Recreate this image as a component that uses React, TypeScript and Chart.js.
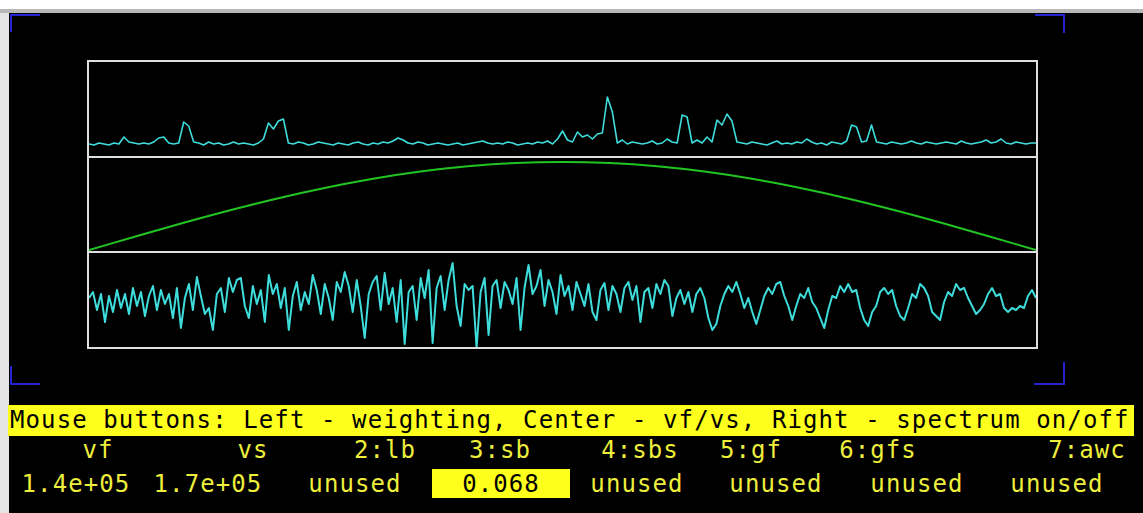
import React, { useEffect, useRef } from "react";
import { Chart, registerables } from "chart.js";

Chart.register(...registerables);

// ---- data ----
// top panel: spectrum (height above panel floor, 0..96)
const spectrum = [
  13, 12, 14, 13, 12, 14, 13, 20, 15, 14,
  13, 14, 13, 15, 19, 20, 14, 13, 14, 35,
  31, 15, 14, 12, 15, 13, 14, 12, 13, 15,
  13, 14, 13, 12, 14, 18, 34, 28, 36, 38,
  14, 13, 15, 14, 12, 13, 15, 14, 13, 12,
  14, 13, 12, 14, 15, 13, 12, 14, 13, 15,
  14, 16, 19, 17, 14, 13, 15, 14, 12, 13,
  14, 13, 12, 13, 14, 12, 13, 14, 15, 16,
  14, 13, 14, 13, 15, 14, 12, 13, 14, 13,
  15, 14, 16, 13, 18, 26, 17, 15, 25, 20,
  22, 18, 23, 24, 60, 45, 14, 17, 13, 15,
  14, 13, 14, 16, 13, 14, 18, 15, 14, 42,
  40, 14, 17, 14, 20, 15, 37, 32, 43, 36,
  15, 14, 13, 15, 14, 13, 12, 14, 16, 13,
  14, 13, 15, 14, 18, 15, 13, 14, 12, 15,
  14, 13, 16, 32, 30, 15, 16, 32, 15, 14,
  13, 15, 14, 13, 14, 16, 14, 13, 15, 14,
  13, 14, 15, 14, 13, 16, 14, 13, 14, 15,
  17, 14, 15, 18, 14, 13, 15, 14, 13, 14,
  14,
];

// middle panel: weighting window (0..1)
const weighting = [
  0, 0.156, 0.309, 0.454, 0.588, 0.707, 0.809, 0.891, 0.951, 0.988,
  1, 0.988, 0.951, 0.891, 0.809, 0.707, 0.588, 0.454, 0.309, 0.156, 0,
];

// bottom panel: time signal (-48..48)
const signal = [
  2, 8, -10, 6, -22, 4, -12, 10, -8, 6,
  -14, 12, -6, 8, -16, 4, 14, -10, 10, -4,
  6, -18, 12, -28, 2, 16, -10, 23, 4, -14,
  -8, -30, 6, 12, -12, 22, 8, 20, 22, -6,
  -18, 14, -4, 10, -22, 25, 6, 16, -8, 12,
  -30, 4, 18, -10, 8, -4, 25, 10, -14, 16,
  2, -20, 18, 8, 28, 14, -12, 20, -6, -38,
  6, 18, 24, -10, 27, -4, 12, -22, 20, -44,
  8, 14, -20, 22, 2, 30, -43, 12, 24, -10,
  20, 37, -6, -26, 16, 10, 14, -48, 8, 22,
  -35, 14, 20, -8, 18, 10, -4, 22, -30, 12,
  35, 6, 14, 30, -6, 20, 8, -14, 25, 4,
  14, -10, 18, 6, -6, 16, -12, -20, 10, 17,
  -10, 14, 6, -12, 12, 18, 0, 14, -22, 8,
  12, -8, 16, 6, 20, 14, -16, 2, 10, -4,
  8, -12, 6, 12, 2, -18, -30, -24, -6, 6,
  14, 8, 18, 6, -8, 2, -12, -24, -10, 4,
  12, 6, 16, 18, 4, -6, -20, -6, 6, 2,
  12, -2, -8, -18, -28, -10, 4, 2, 14, 8,
  16, 8, 10, -8, -20, -26, -12, -6, 8, 12,
  6, 10, -6, -16, -20, -8, 6, 2, 16, 12,
  4, -12, -16, -20, -2, 8, 4, 16, 10, 12,
  2, -6, -14, -10, -4, 6, 12, 4, 6, -8,
  -12, -8, -10, -6, -8, 4, 10, 2,
];

const helpText = "Mouse buttons: Left - weighting, Center - vf/vs, Right - spectrum on/off";
const headerLabels = ["vf", "vs", "2:lb", "3:sb", "4:sbs", "5:gf", "6:gfs", "7:awc"];
const valueLabels = ["1.4e+05", "1.7e+05", "unused", "0.068", "unused", "unused", "unused", "unused"];
const selectedIndex = 3;

// ---- layout (not data) ----
const headerCenters = [98, 253, 385, 500, 640, 751, 878, 1087];
const valueCenters = [76, 208, 355, 501, 637, 776, 917, 1057];

const CYAN = "#3fdcdc";
const GREEN = "#22c422";
const YELLOW_TEXT = "#eeee3c";
const BAR_BG = "#ffff1e";
const FRAME = "#dedede";
const BLUE = "#2424d0";
const MONO = '"DejaVu Sans Mono", monospace';

function Panel(props: {
  values: number[];
  color: string;
  lineWidth: number;
  min: number;
  max: number;
  tension: number;
  left: number;
  top: number;
  width: number;
  height: number;
}) {
  const ref = useRef<HTMLCanvasElement | null>(null);
  useEffect(() => {
    if (!ref.current) return;
    const chart = new Chart(ref.current, {
      type: "line",
      data: {
        labels: props.values.map((_, i) => String(i)),
        datasets: [
          {
            data: props.values,
            borderColor: props.color,
            borderWidth: props.lineWidth,
            pointRadius: 0,
            tension: props.tension,
            fill: false,
            borderJoinStyle: "round",
          },
        ],
      },
      options: {
        animation: false,
        responsive: false,
        maintainAspectRatio: false,
        events: [],
        layout: { padding: 0 },
        plugins: { legend: { display: false }, tooltip: { enabled: false } },
        scales: {
          x: { display: false, offset: false },
          y: { display: false, min: props.min, max: props.max },
        },
      },
    });
    return () => chart.destroy();
  }, []);
  return (
    <canvas
      ref={ref}
      width={props.width}
      height={props.height}
      style={{ position: "absolute", left: props.left, top: props.top, width: props.width, height: props.height }}
    />
  );
}

function Corner(props: { left: number; top: number; w: number; h: number }) {
  return (
    <div
      style={{ position: "absolute", left: props.left, top: props.top, width: props.w, height: props.h, background: BLUE }}
    />
  );
}

export default function App() {
  const textBase: React.CSSProperties = {
    position: "absolute",
    fontFamily: MONO,
    fontSize: 24,
    lineHeight: "24px",
    letterSpacing: "1.1px",
    whiteSpace: "pre",
    color: YELLOW_TEXT,
  };
  return (
    <div style={{ position: "fixed", left: 0, top: 0, width: 1143, height: 513, background: "#e4e4e4", overflow: "hidden" }}>
      <div style={{ position: "absolute", left: 0, top: 0, width: 1143, height: 9, background: "#ffffff" }} />
      <div style={{ position: "absolute", left: 0, top: 9, width: 1143, height: 4, background: "#b8b8b8" }} />
      <div style={{ position: "absolute", left: 9, top: 13, width: 1134, height: 500, background: "#000000" }} />

      {/* blue corner marks */}
      <Corner left={10} top={14} w={30} h={2} />
      <Corner left={10} top={14} w={2} h={18} />
      <Corner left={1035} top={14} w={30} h={2} />
      <Corner left={1063} top={14} w={2} h={19} />
      <Corner left={10} top={366} w={2} h={19} />
      <Corner left={10} top={383} w={30} h={2} />
      <Corner left={1063} top={362} w={2} h={23} />
      <Corner left={1034} top={383} w={31} h={2} />

      {/* panels */}
      <Panel values={spectrum} color={CYAN} lineWidth={1.6} min={0} max={96} tension={0} left={89} top={61} width={947} height={96} />
      <Panel values={weighting} color={GREEN} lineWidth={2} min={-0.023} max={1.057} tension={0.4} left={89} top={157} width={947} height={95} />
      <Panel values={signal} color={CYAN} lineWidth={2} min={-48} max={48} tension={0} left={89} top={252} width={947} height={96} />

      {/* frame */}
      <div style={{ position: "absolute", left: 87, top: 60, width: 951, height: 289, border: `2px solid ${FRAME}`, boxSizing: "border-box" }} />
      <div style={{ position: "absolute", left: 87, top: 156, width: 951, height: 2, background: FRAME }} />
      <div style={{ position: "absolute", left: 87, top: 251, width: 951, height: 2, background: FRAME }} />

      {/* help bar */}
      <div style={{ position: "absolute", left: 8, top: 405, width: 1126, height: 31, background: BAR_BG }} />
      <div style={{ ...textBase, left: 10, top: 408, color: "#000000" }}>{helpText}</div>

      {headerLabels.map((t, i) => (
        <div key={"h" + i} style={{ ...textBase, left: headerCenters[i], top: 438, transform: "translateX(-50%)" }}>
          {t}
        </div>
      ))}

      <div style={{ position: "absolute", left: 432, top: 469, width: 138, height: 29, background: BAR_BG }} />
      {valueLabels.map((t, i) => (
        <div
          key={"v" + i}
          style={{
            ...textBase,
            left: valueCenters[i],
            top: 472,
            transform: "translateX(-50%)",
            color: i === selectedIndex ? "#000000" : YELLOW_TEXT,
          }}
        >
          {t}
        </div>
      ))}
    </div>
  );
}
